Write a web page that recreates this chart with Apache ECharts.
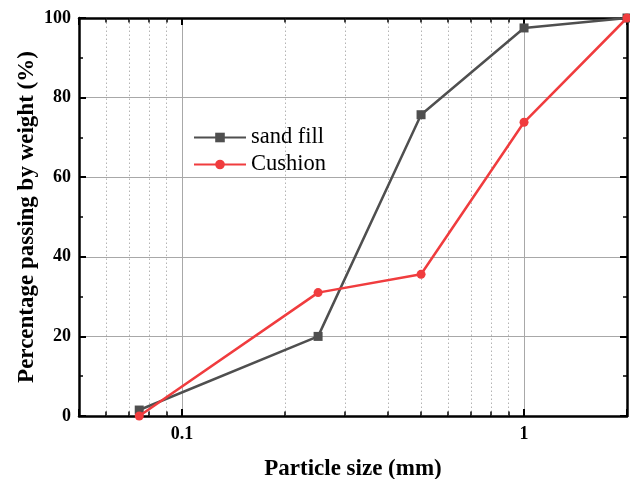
<!DOCTYPE html>
<html><head><meta charset="utf-8">
<script src="https://cdn.jsdelivr.net/npm/echarts@6/dist/echarts.min.js"></script>
<style>html,body{margin:0;padding:0;background:#fff}#c{width:630px;height:479px}</style>
</head><body><div id="c"></div>
<script>
const sizes = [0.075, 0.25, 0.5, 1, 2];
const sandFill = [1.5, 20, 75.7, 97.5, 100];
const cushion = [0, 31, 35.6, 73.8, 100];
const xMajorLabels = [0.1, 1];
const xMinorValues = [0.06, 0.07, 0.08, 0.09, 0.2, 0.3, 0.4, 0.5, 0.6, 0.7, 0.8, 0.9];
const seriesNames = ['sand fill', 'Cushion'];

const FONT = "'Liberation Serif', 'Times New Roman', serif";
const pairs = (xs, ys) => xs.map((x, i) => [x, ys[i]]);

const minorMarks = [];
xMinorValues.forEach(v => {
  minorMarks.push({ xAxis: v, lineStyle: { type: [1.5, 2.5], color: '#b4b4b4', width: 1 } });
  minorMarks.push([{ coord: [v, 0], lineStyle: { type: 'solid', color: '#000', width: 1.5 } }, { coord: [v, 1.1] }]);
  minorMarks.push([{ coord: [v, 100], lineStyle: { type: 'solid', color: '#000', width: 1.5 } }, { coord: [v, 98.9] }]);
});

const xBase = {
  type: 'log', logBase: 10, min: 0.05, max: 2,
  axisLine: { show: true, onZero: false, lineStyle: { color: '#000', width: 2.5 } },
  axisTick: { show: true, inside: true, length: 7, lineStyle: { color: '#000', width: 2 } },
  minorTick: { show: false },
};
const yBase = {
  type: 'value', min: 0, max: 100, interval: 20,
  axisLine: { show: true, onZero: false, lineStyle: { color: '#000', width: 2.5 } },
  axisTick: { show: true, inside: true, length: 7, lineStyle: { color: '#000', width: 2 } },
  minorTick: { show: true, splitNumber: 2, length: 4, lineStyle: { color: '#000', width: 1.5 } },
};

const chart = echarts.init(document.getElementById('c'));
chart.setOption({
  animation: false,
  backgroundColor: '#fff',
  grid: { left: 79, top: 18, right: 3, bottom: 63, outerBoundsMode: 'none', containLabel: false },
  legend: {
    data: seriesNames, orient: 'vertical', left: 188, top: 121,
    itemWidth: 52, itemHeight: 12, itemGap: 4,
    textStyle: { fontFamily: FONT, fontSize: 22.5, color: '#000' }
  },
  xAxis: [
    Object.assign({}, xBase, {
      position: 'bottom',
      name: 'Particle size (mm)', nameLocation: 'middle', nameGap: 42, nameMoveOverlap: false,
      nameTextStyle: { fontFamily: FONT, fontSize: 23, fontWeight: 'bold', color: '#000', verticalAlign: 'top' },
      axisLabel: {
        margin: 9, fontFamily: FONT, fontSize: 18, fontWeight: 'bold', color: '#000',
        formatter: v => xMajorLabels.some(m => Math.abs(m - v) < 1e-9) ? String(v) : ''
      },
      splitLine: { show: true, lineStyle: { color: '#a8a8a8', width: 1 } }
    }),
    Object.assign({}, xBase, { position: 'top', axisLabel: { show: false }, splitLine: { show: false } })
  ],
  yAxis: [
    Object.assign({}, yBase, {
      position: 'left',
      name: 'Percentage passing by weight (%)', nameLocation: 'middle', nameGap: 40, nameMoveOverlap: false,
      nameTextStyle: { fontFamily: FONT, fontSize: 23, fontWeight: 'bold', color: '#000' },
      axisLabel: { margin: 8, fontFamily: FONT, fontSize: 18, fontWeight: 'bold', color: '#000' },
      splitLine: { show: true, lineStyle: { color: '#a8a8a8', width: 1 } }
    }),
    Object.assign({}, yBase, { position: 'right', axisLabel: { show: false }, splitLine: { show: false } })
  ],
  series: [
    {
      name: seriesNames[0], type: 'line', xAxisIndex: 0, yAxisIndex: 0,
      data: pairs(sizes, sandFill),
      symbol: 'rect', symbolSize: 9,
      lineStyle: { color: '#4f4f4f', width: 2.5 },
      itemStyle: { color: '#4f4f4f' },
      z: 3,
      markLine: { silent: true, symbol: 'none', label: { show: false }, z: 1, animation: false, data: minorMarks }
    },
    {
      name: seriesNames[1], type: 'line', xAxisIndex: 0, yAxisIndex: 0,
      data: pairs(sizes, cushion),
      symbol: 'circle', symbolSize: 9,
      lineStyle: { color: '#f03c3e', width: 2.5 },
      itemStyle: { color: '#f03c3e' },
      z: 4
    }
  ]
});
</script></body></html>
